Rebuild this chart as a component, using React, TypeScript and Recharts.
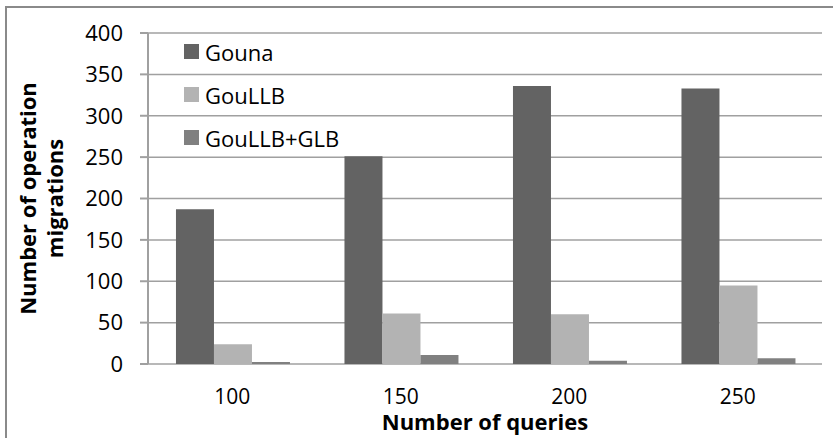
import React from 'react'
import {
  BarChart,
  Bar,
  XAxis,
  YAxis,
  CartesianGrid,
  Legend,
} from 'recharts'

const queries = ['100', '150', '200', '250']
const gouna = [187, 251, 336, 333]
const gouLLB = [24, 61, 60, 95]
const gouLLBGLB = [2.5, 11, 4, 7]
const yTicks = [0, 50, 100, 150, 200, 250, 300, 350, 400]
const edgeTicks = [0, 1, 2, 3, 4]

const series = [
  { key: 'gouna', name: 'Gouna', color: '#636363' },
  { key: 'gouLLB', name: 'GouLLB', color: '#b3b3b3' },
  { key: 'gouLLBGLB', name: 'GouLLB+GLB', color: '#808080' },
]

const data = queries.map((q, i) => ({
  q,
  gouna: gouna[i],
  gouLLB: gouLLB[i],
  gouLLBGLB: gouLLBGLB[i],
}))

const FONT = '"Open Sans", sans-serif'
const AXIS = '#a0a0a0'

function LegendBox() {
  return (
    <div style={{ fontFamily: FONT, fontSize: 22, color: '#000' }}>
      {series.map((s) => (
        <div key={s.key} style={{ display: 'flex', alignItems: 'center', height: 43 }}>
          <span style={{ width: 15, height: 15, background: s.color, marginRight: 6 }} />
          <span>{s.name}</span>
        </div>
      ))}
    </div>
  )
}

function YTitle({ viewBox }: any) {
  const cy = viewBox.y + viewBox.height / 2
  return (
    <g fontFamily={FONT} fontSize={22} fontWeight="bold" fill="#000" textAnchor="middle">
      <text x={36} y={cy} transform={`rotate(-90 36 ${cy})`}>Number of operation</text>
      <text x={63} y={cy} transform={`rotate(-90 63 ${cy})`}>migrations</text>
    </g>
  )
}

export default function App() {
  return (
    <div style={{ position: 'fixed', left: 0, top: 0, width: 833, height: 438, overflow: 'hidden', background: '#fff' }}>
      <div
        style={{
          position: 'absolute',
          left: 5,
          top: 6,
          width: 900,
          height: 500,
          borderLeft: '2px solid #8a8a8a',
          borderTop: '2px solid #8a8a8a',
        }}
      />
      <BarChart
        width={833}
        height={438}
        data={data}
        margin={{ top: 33, right: 11, left: 88, bottom: 0 }}
        barCategoryGap="16.6%"
        barGap={0}
        style={{ position: 'absolute', left: 0, top: 0 }}
      >
        <CartesianGrid horizontal vertical={false} stroke={AXIS} strokeWidth={1.5} />
        <XAxis
          xAxisId="edge"
          type="number"
          domain={[0, 4]}
          ticks={edgeTicks}
          height={0}
          tickSize={8}
          tickFormatter={() => ''}
          stroke={AXIS}
          strokeWidth={2}
        />
        <XAxis
          xAxisId="cat"
          dataKey="q"
          height={74}
          axisLine={false}
          tickLine={false}
          tickSize={8}
          tickMargin={17}
          tick={{ fontFamily: FONT, fontSize: 21, fill: '#000' }}
          label={{
            value: 'Number of queries',
            position: 'insideBottom',
            offset: 8,
            fontFamily: FONT,
            fontSize: 22,
            fontWeight: 'bold',
            fill: '#000',
          }}
        />
        <YAxis
          width={60}
          domain={[0, 400]}
          ticks={yTicks}
          interval={0}
          tickSize={8}
          tickMargin={17}
          stroke={AXIS}
          strokeWidth={2}
          tick={{ fontFamily: FONT, fontSize: 22, fill: '#000' }}
          label={<YTitle />}
        />
        <Legend
          layout="vertical"
          align="center"
          verticalAlign="middle"
          wrapperStyle={{ left: 184, top: 30, width: 'auto' }}
          content={<LegendBox />}
        />
        {series.map((s) => (
          <Bar
            key={s.key}
            xAxisId="cat"
            dataKey={s.key}
            name={s.name}
            fill={s.color}
            isAnimationActive={false}
          />
        ))}
      </BarChart>
    </div>
  )
}
